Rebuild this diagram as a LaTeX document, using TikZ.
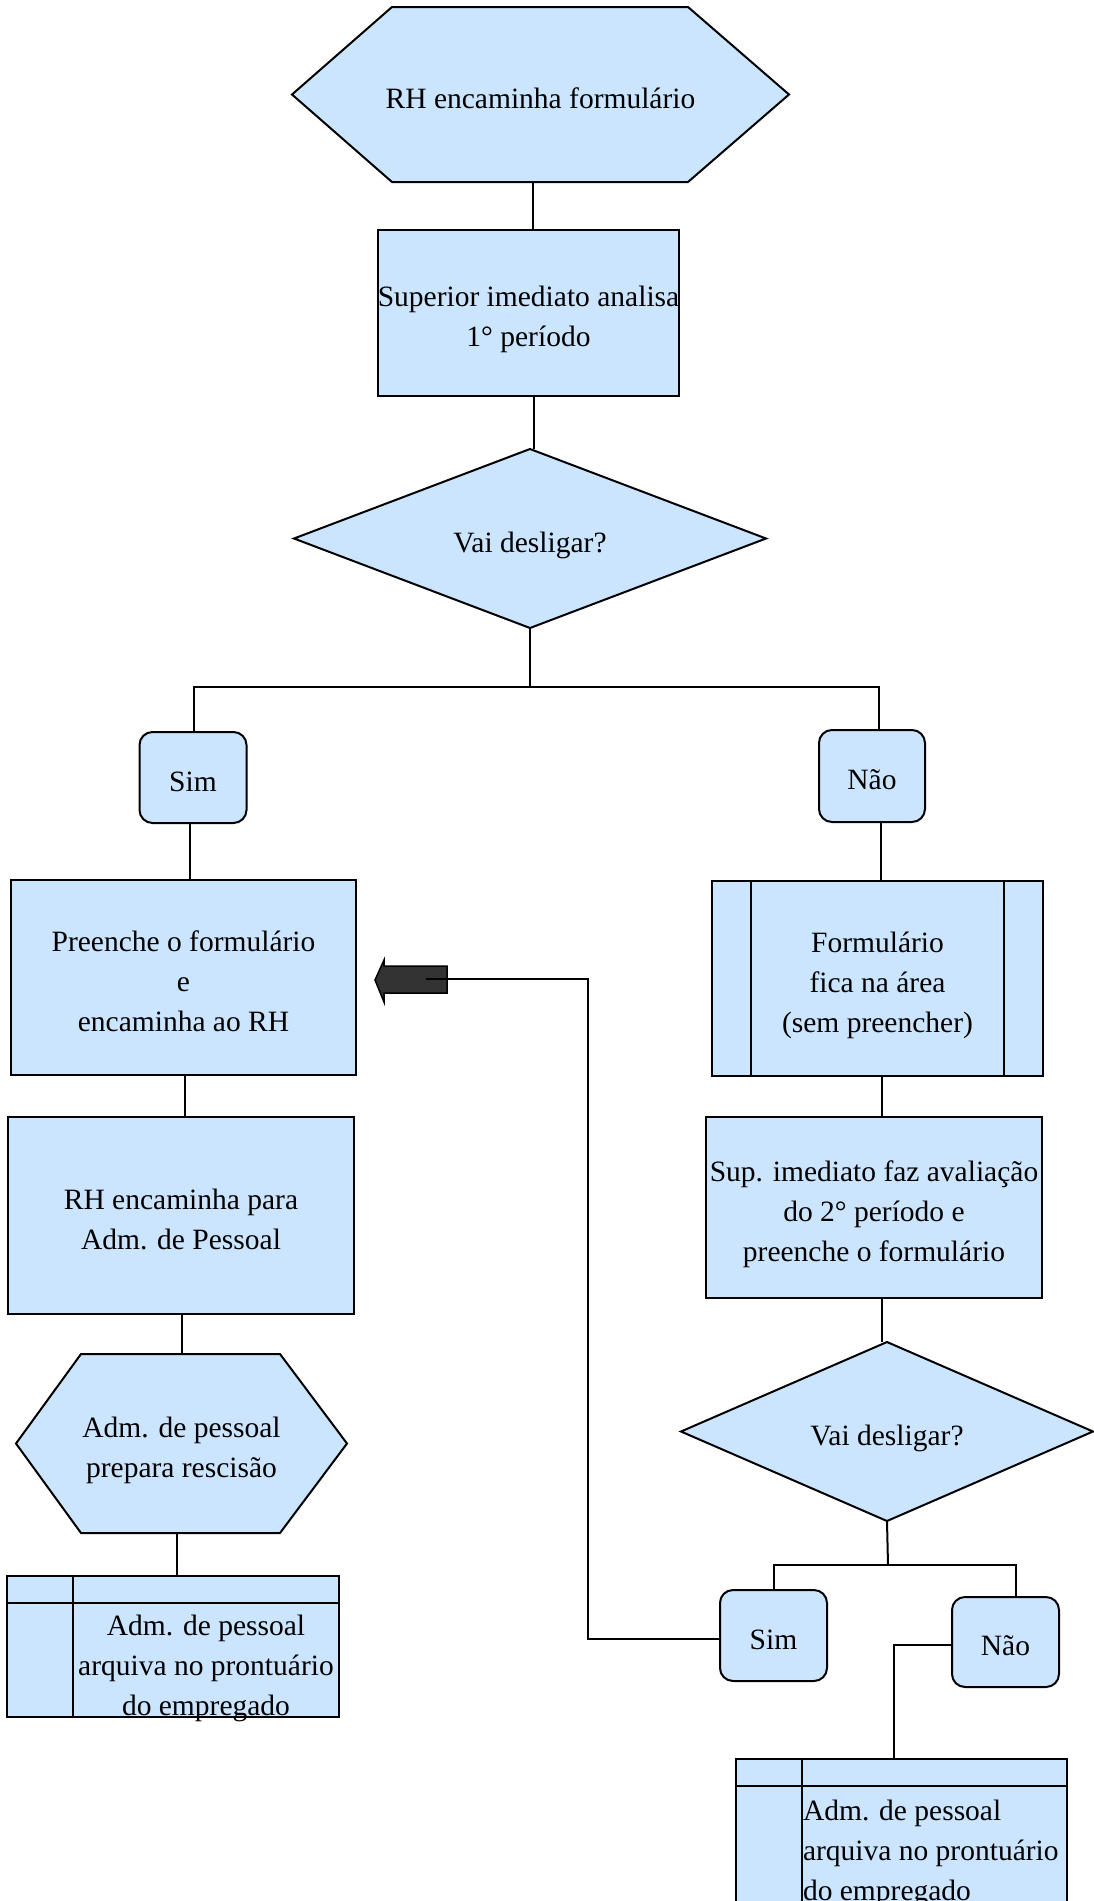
\documentclass[tikz,border=0pt]{standalone}
\usepackage{fontspec}
\setmainfont{Liberation Serif}
\usetikzlibrary{calc}
\pgfdeclarelayer{bg}
\pgfsetlayers{bg,main}
\definecolor{boxfill}{RGB}{204,229,255}
\definecolor{arrowfill}{RGB}{51,51,51}
\newcommand{\mytop}{\rule{0pt}{33.5pt}}
\newcommand{\mybot}{\rule[-6.5pt]{0pt}{6.5pt}}
\begin{document}
\begin{tikzpicture}[x=1pt,y=-1pt,
  every node/.style={inner sep=0pt, outer sep=0pt},
  txt/.style={font=\fontsize{29.5}{40}\selectfont, align=center},
  box/.style={draw, fill=boxfill, line width=2pt, rectangle, txt},
  rbox/.style={box, rounded corners=13pt},
  holder/.style={rectangle, txt},
  conn/.style={line width=2pt},
  outline/.style={draw, fill=boxfill, line width=2pt, line join=miter}
]
\path[use as bounding box] (0,0) rectangle (1093,1901);

% ---------- nodes ----------
\node[holder, minimum width=497, minimum height=175] (hex1) at (540.5,94.5) {\mytop RH encaminha formulário\mybot};
\node[box, minimum width=301, minimum height=166] (box2) at (528.5,313) {\mytop Superior imediato analisa\\1° período\mybot};
\node[holder, minimum width=472, minimum height=179] (dia1) at (530,538.5) {\mytop Vai desligar?\mybot};
\node[rbox, minimum width=107, minimum height=91] (sim1) at (193,777.5) {\mytop Sim\mybot};
\node[rbox, minimum width=106, minimum height=92] (nao1) at (872,776) {\mytop Não\mybot};
\node[box, minimum width=345, minimum height=195] (box3) at (183.5,977.5) {\mytop Preenche o formulário\\e\\encaminha ao RH\mybot};
\node[box, minimum width=346, minimum height=197] (box4) at (181,1215.5) {\mytop RH encaminha para\\Adm. de Pessoal\mybot};
\node[holder, minimum width=331, minimum height=179] (hex2) at (181.5,1443.5) {\mytop Adm. de pessoal\\prepara rescisão\mybot};
\node[draw, fill=boxfill, line width=2pt, minimum width=332, minimum height=141] (store1) at (173,1646.5) {};
\node[box, minimum width=331, minimum height=195] (form) at (877.5,978.5) {\mytop Formulário\\fica na área\\(sem preencher)\mybot};
\node[box, minimum width=336, minimum height=181] (box5) at (874,1207.5) {\mytop Sup. imediato faz avaliação\\do 2° período e\\preenche o formulário\mybot};
\node[holder, minimum width=412, minimum height=179] (dia2) at (887,1431.5) {\mytop Vai desligar?\mybot};
\node[rbox, minimum width=107, minimum height=91] (sim2) at (773.5,1635.5) {\mytop Sim\mybot};
\node[rbox, minimum width=107, minimum height=90] (nao2) at (1005.5,1642) {\mytop Não\mybot};
\node[draw, fill=boxfill, line width=2pt, minimum width=331, minimum height=182] (store2) at (901.5,1850) {};

% ---------- shapes behind the texts ----------
\begin{pgfonlayer}{bg}
\draw[outline] (hex1.west) -- ([xshift=100]hex1.north west) -- ([xshift=-101]hex1.north east)
  -- (hex1.east) -- ([xshift=-101]hex1.south east) -- ([xshift=100]hex1.south west) -- cycle;
\draw[outline] (dia1.west) -- (dia1.north) -- (dia1.east) -- (dia1.south) -- cycle;
\draw[outline] (hex2.west) -- ([xshift=65]hex2.north west) -- ([xshift=-67]hex2.north east)
  -- (hex2.east) -- ([xshift=-67]hex2.south east) -- ([xshift=65]hex2.south west) -- cycle;
\draw[outline] (dia2.west) -- (dia2.north) -- (dia2.east) -- (dia2.south) -- cycle;
\end{pgfonlayer}

% inner lines of the framed boxes
\draw[conn] ([xshift=39]form.north west) -- ([xshift=39]form.south west);
\draw[conn] ([xshift=-39]form.north east) -- ([xshift=-39]form.south east);
\draw[conn] ([xshift=66]store1.north west) -- ([xshift=66]store1.south west);
\draw[conn] ([yshift=-27]store1.north west) -- ([yshift=-27]store1.north east);
\draw[conn] ([xshift=66]store2.north west) -- ([xshift=66]store2.south west);
\draw[conn] ([yshift=-27]store2.north west) -- ([yshift=-27]store2.north east);

% texts of the storage boxes
\node[txt, align=center, anchor=north] (store1txt) at (206,1615.5) {Adm. de pessoal\\arquiva no prontuário\\do empregado};
\node[txt, align=left, anchor=north west] (store2txt) at (803,1800) {Adm. de pessoal\\arquiva no prontuário\\do empregado};

% ---------- block arrow ----------
\coordinate (arrowin) at (426,979);
\draw[line width=1.5pt, fill=arrowfill, line join=miter] (447,966) -- (384,966) -- (384,960) -- (375,980)
  -- (384,1002) -- (384,993) -- (447,993) -- cycle;

% ---------- connectors ----------
\coordinate (j1) at (530,687);
\coordinate (j2) at (888,1565);
\draw[conn] ([xshift=-8]hex1.south) -- ([xshift=-8]hex1.south |- box2.north);
\draw[conn] ([xshift=5]box2.south) -- ([xshift=5]box2.south |- dia1.north);
\draw[conn] (dia1.south) -- (j1);
\draw[conn] ([xshift=1]sim1.north) |- (j1) -| ([xshift=7]nao1.north);
\draw[conn] ([xshift=-3]sim1.south) -- ([xshift=-3]sim1.south |- box3.north);
\draw[conn] ([xshift=1.5]box3.south) -- ([xshift=1.5]box3.south |- box4.north);
\draw[conn] ([xshift=1]box4.south) -- ([xshift=1]box4.south |- hex2.north);
\draw[conn] ([xshift=-4.5]hex2.south) -- ([xshift=-4.5]hex2.south |- store1.north);
\draw[conn] ([xshift=9]nao1.south) -- ([xshift=9]nao1.south |- form.north);
\draw[conn] ([xshift=4.5]form.south) -- ([xshift=4.5]form.south |- box5.north);
\draw[conn] ([xshift=8]box5.south) -- ([xshift=8]box5.south |- dia2.north);
\draw[conn] (dia2.south) -- (j2);
\draw[conn] (sim2.north) |- (j2) -| ([xshift=10.5]nao2.north);
\draw[conn] ([yshift=-3.5]sim2.west) -- ++(-132,0) |- (arrowin);
\draw[conn] ([yshift=-3]nao2.west) -| ([xshift=-7.5]store2.north);
\end{tikzpicture}
\end{document}
